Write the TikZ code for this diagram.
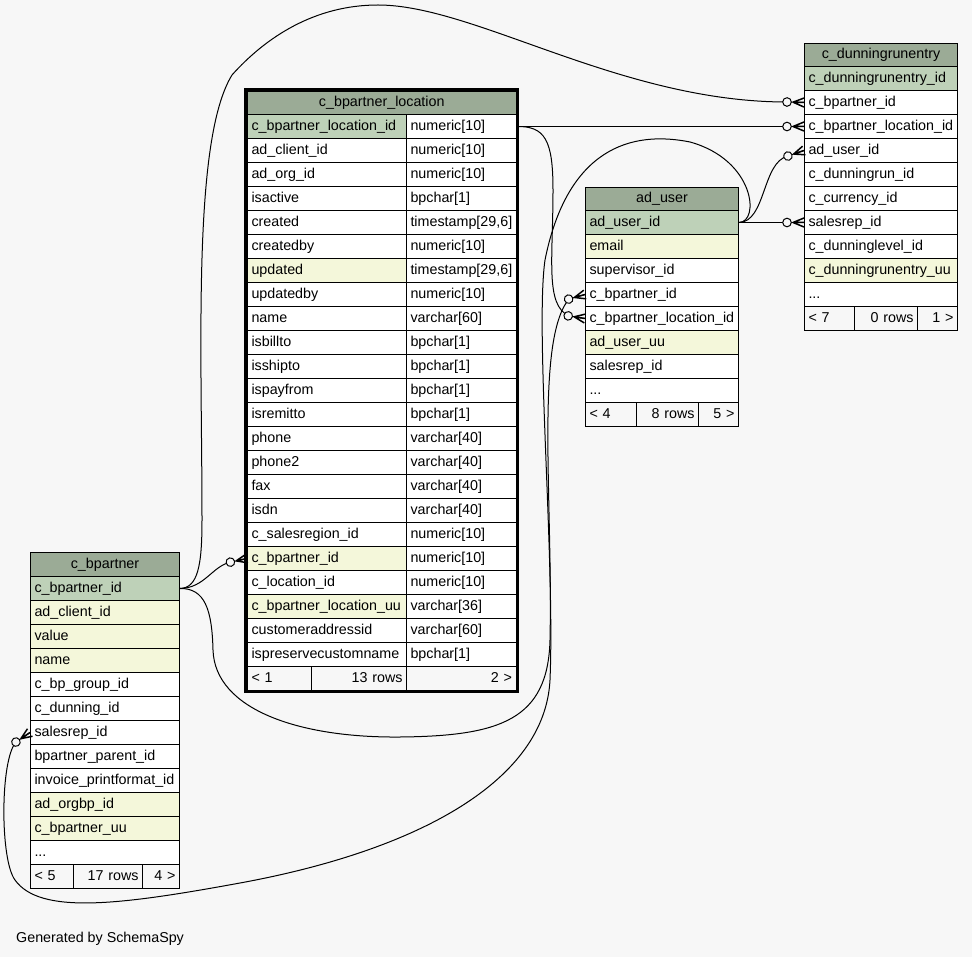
\documentclass[tikz,border=0pt]{standalone}
\usepackage{fontspec}
\setmainfont{Liberation Sans}
\usetikzlibrary{decorations.markings}
\definecolor{bgc}{HTML}{F7F7F7}
\definecolor{hdr}{HTML}{9BAB96}
\definecolor{pkc}{HTML}{BED1B8}
\definecolor{idx}{HTML}{F4F7DA}
\tikzset{
  cellbox/.style={draw=black, line width=1pt, inner xsep=4pt, inner ysep=0pt,
    minimum height=24pt, anchor=north west, align=left,
    font=\fontsize{14.3}{16}\selectfont, text height=10.5pt, text depth=3pt, fill=white},
  hdrbox/.style={cellbox, fill=hdr, align=center, minimum height=23pt},
  footl/.style={cellbox, fill=bgc, align=left},
  footr/.style={cellbox, fill=bgc, align=right},
  bpw/.style={text width=141pt},
  auw/.style={text width=145pt},
  drw/.style={text width=145pt},
  blnw/.style={text width=151pt},
  bltw/.style={text width=101.5pt},
  edge/.style={draw=black, line width=1pt},
  crowodot/.style={postaction={decorate, decoration={markings, mark=at position 1 with {
      \fill[bgc] (-17pt,0pt) circle (4.3pt);
      \draw[line width=1pt] (-17pt,0pt) circle (4.3pt);
      \draw[line width=1.5pt] (-11pt,0pt) -- (0pt,4.5pt) (-11pt,0pt) -- (0pt,-4.5pt) (-11pt,0pt) -- (0pt,0pt);
  }}}}
}
\newcommand{\bprow}[3]{\node[cellbox,bpw,fill=#3] (bp-#1) at (30,{576+24*#1}) {#2};}
\newcommand{\aurow}[3]{\node[cellbox,auw,fill=#3] (au-#1) at (585,{210+24*#1}) {#2};}
\newcommand{\drrow}[3]{\node[cellbox,drw,fill=#3] (dr-#1) at (804,{66+24*#1}) {#2};}
\newcommand{\blrow}[4]{\node[cellbox,blnw,fill=#3] (bln-#1) at (247,{114+24*#1}) {#2};
  \node[cellbox,bltw] (blt-#1) at (406,{114+24*#1}) {#4};}
\begin{document}
\begin{tikzpicture}[x=1pt,y=-1pt]
\fill[bgc] (0,0) rectangle (972,957);
\useasboundingbox (0,0) rectangle (972,957);

% c_bpartner
\node[hdrbox,bpw,minimum height=24pt] (bp-h) at (30,552) {c\_bpartner};
\bprow{0}{c\_bpartner\_id}{pkc}
\bprow{1}{ad\_client\_id}{idx}
\bprow{2}{value}{idx}
\bprow{3}{name}{idx}
\bprow{4}{c\_bp\_group\_id}{white}
\bprow{5}{c\_dunning\_id}{white}
\bprow{6}{salesrep\_id}{white}
\bprow{7}{bpartner\_parent\_id}{white}
\bprow{8}{invoice\_printformat\_id}{white}
\bprow{9}{ad\_orgbp\_id}{idx}
\bprow{10}{c\_bpartner\_uu}{idx}
\bprow{11}{...}{white}
\node[footl,text width=35pt] (bp-f1) at (30,864) {< 5};
\node[footr,text width=61pt] (bp-f2) at (73,864) {17 rows};
\node[footr,text width=29pt] (bp-f3) at (142,864) {4 >};

% c_bpartner_location
\node[hdrbox,text width=260.5pt] (bl-h) at (247,91) {c\_bpartner\_location};
\blrow{0}{c\_bpartner\_location\_id}{pkc}{numeric[10]}
\blrow{1}{ad\_client\_id}{white}{numeric[10]}
\blrow{2}{ad\_org\_id}{white}{numeric[10]}
\blrow{3}{isactive}{white}{bpchar[1]}
\blrow{4}{created}{white}{timestamp[29,6]}
\blrow{5}{createdby}{white}{numeric[10]}
\blrow{6}{updated}{idx}{timestamp[29,6]}
\blrow{7}{updatedby}{white}{numeric[10]}
\blrow{8}{name}{white}{varchar[60]}
\blrow{9}{isbillto}{white}{bpchar[1]}
\blrow{10}{isshipto}{white}{bpchar[1]}
\blrow{11}{ispayfrom}{white}{bpchar[1]}
\blrow{12}{isremitto}{white}{bpchar[1]}
\blrow{13}{phone}{white}{varchar[40]}
\blrow{14}{phone2}{white}{varchar[40]}
\blrow{15}{fax}{white}{varchar[40]}
\blrow{16}{isdn}{white}{varchar[40]}
\blrow{17}{c\_salesregion\_id}{white}{numeric[10]}
\blrow{18}{c\_bpartner\_id}{idx}{numeric[10]}
\blrow{19}{c\_location\_id}{white}{numeric[10]}
\blrow{20}{c\_bpartner\_location\_uu}{idx}{varchar[36]}
\blrow{21}{customeraddressid}{white}{varchar[60]}
\blrow{22}{ispreservecustomname}{white}{bpchar[1]}
\node[footl,text width=56pt] (bl-f1) at (247,666) {< 1};
\node[footr,text width=87pt] (bl-f2) at (311,666) {13 rows};
\node[footr,text width=101.5pt] (bl-f3) at (406,666) {2 >};
\draw[line width=3pt] (245.5,89.5) rectangle (517,691.5);

% ad_user
\node[hdrbox,auw] (au-h) at (585,187) {ad\_user};
\aurow{0}{ad\_user\_id}{pkc}
\aurow{1}{email}{idx}
\aurow{2}{supervisor\_id}{white}
\aurow{3}{c\_bpartner\_id}{white}
\aurow{4}{c\_bpartner\_location\_id}{white}
\aurow{5}{ad\_user\_uu}{idx}
\aurow{6}{salesrep\_id}{white}
\aurow{7}{...}{white}
\node[footl,text width=43pt] (au-f1) at (585,402) {< 4};
\node[footr,text width=54pt] (au-f2) at (636,402) {8 rows};
\node[footr,text width=32pt] (au-f3) at (698,402) {5 >};

% c_dunningrunentry
\node[hdrbox,drw] (dr-h) at (804,43) {c\_dunningrunentry};
\drrow{0}{c\_dunningrunentry\_id}{pkc}
\drrow{1}{c\_bpartner\_id}{white}
\drrow{2}{c\_bpartner\_location\_id}{white}
\drrow{3}{ad\_user\_id}{white}
\drrow{4}{c\_dunningrun\_id}{white}
\drrow{5}{c\_currency\_id}{white}
\drrow{6}{salesrep\_id}{white}
\drrow{7}{c\_dunninglevel\_id}{white}
\drrow{8}{c\_dunningrunentry\_uu}{idx}
\drrow{9}{...}{white}
\node[footl,text width=42pt] (dr-f1) at (804,306) {< 7};
\node[footr,text width=55pt] (dr-f2) at (854,306) {0 rows};
\node[footr,text width=32pt] (dr-f3) at (917,306) {1 >};

% connectors
\draw[edge,crowodot] (bp-0.east) .. controls (205,588) and (212,566) .. (231,562) -- (bln-18.west);
\draw[edge,crowodot] (bp-0.east) .. controls (198,588) and (202,565) .. (202,520)
  .. controls (202,350) and (192,140) .. (232,75)
  .. controls (266,37) and (315,5) .. (378,5)
  .. controls (475,5) and (620,102) .. (787,102) -- (dr-1.west);
\draw[edge,crowodot] (bp-0.east) .. controls (205,588) and (212,610) .. (213,650)
  .. controls (215,710) and (300,738) .. (400,737)
  .. controls (500,736) and (548,720) .. (550,640)
  .. controls (553,500) and (535,340) .. (569,299) -- (au-3.west);
\draw[edge,crowodot] (blt-0.east) -- (dr-2.west);
\draw[edge,crowodot] (blt-0.east) .. controls (545,126) and (553,140) .. (553,190)
  .. controls (553,260) and (545,305) .. (569,316) -- (au-4.west);
\draw[edge,crowodot] (au-0.east) -- (dr-6.west);
\draw[edge,crowodot] (au-0.east) .. controls (766,222) and (762,162) .. (788,156) -- (dr-3.west);
\draw[edge,crowodot] (au-0.east) .. controls (760,222) and (755,160) .. (690,142)
  .. controls (620,128) and (565,160) .. (545,260)
  .. controls (535,330) and (555,560) .. (550,680)
  .. controls (545,780) and (420,850) .. (240,883)
  .. controls (120,905) and (40,915) .. (15,880)
  .. controls (0,860) and (0,760) .. (16,742) -- (bp-6.west);

\node[anchor=base west, inner sep=0pt, font=\fontsize{14.3}{16}\selectfont] (gen) at (16,942) {Generated by SchemaSpy};
\end{tikzpicture}
\end{document}
